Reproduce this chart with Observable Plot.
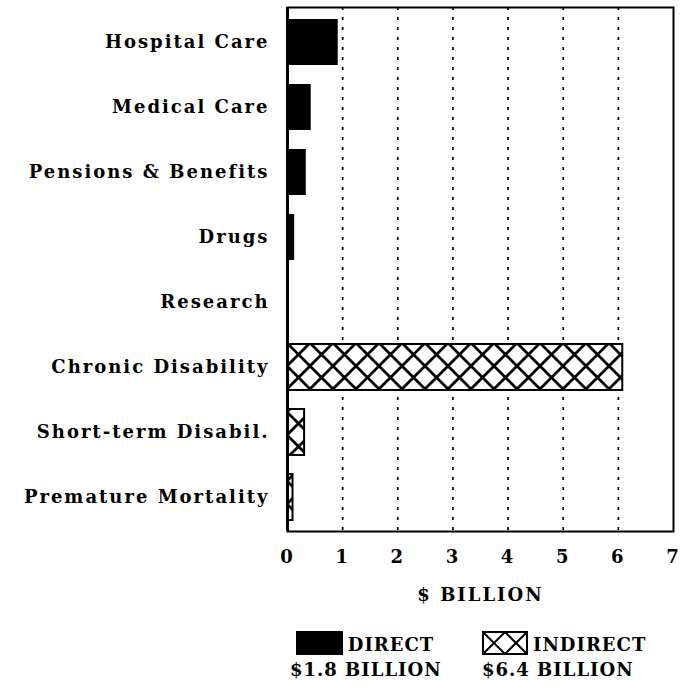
<!DOCTYPE html>
<html>
<head>
<meta charset="utf-8">
<script src="https://cdn.jsdelivr.net/npm/d3@7"></script>
<script src="https://cdn.jsdelivr.net/npm/@observablehq/plot@0.6"></script>
<style>
  html, body { margin: 0; padding: 0; background: #fff; }
  body { width: 692px; height: 690px; overflow: hidden; font-family: "DejaVu Serif", serif; font-weight: bold; color: #000; }
  #chart svg { display: block; }
  #legend { position: relative; width: 692px; height: 78px; }
  .item { position: absolute; top: 19px; text-align: center; font-size: 18px; line-height: 25px; letter-spacing: 1px; white-space: nowrap; }
  .item svg { vertical-align: -4px; margin-right: 5px; }
</style>
</head>
<body>
<div id="chart"></div>
<div id="legend"></div>
<script>
const categories = ["Hospital Care", "Medical Care", "Pensions & Benefits", "Drugs", "Research", "Chronic Disability", "Short-term Disabil.", "Premature Mortality"];
const directCategories = ["Hospital Care", "Medical Care", "Pensions & Benefits", "Drugs", "Research"];
const directValues = [0.92, 0.43, 0.34, 0.13, 0.02];
const indirectCategories = ["Chronic Disability", "Short-term Disabil.", "Premature Mortality"];
const indirectValues = [6.08, 0.31, 0.1];
const xTicks = [0, 1, 2, 3, 4, 5, 6, 7];
const gridValues = [1, 2, 3, 4, 5, 6];
const xTitle = "$ BILLION";
const legendLabels = ["DIRECT", "INDIRECT"];
const legendTotals = ["$1.8 BILLION", "$6.4 BILLION"];

const direct = directCategories.map((c, i) => ({category: c, value: directValues[i]}));
const indirect = indirectCategories.map((c, i) => ({category: c, value: indirectValues[i]}));

const svg = Plot.plot({
  width: 692,
  height: 612,
  marginLeft: 287,
  marginRight: 19,
  marginTop: 7,
  marginBottom: 81,
  style: {fontFamily: "DejaVu Serif, serif", fontSize: "18px", fontWeight: "bold", letterSpacing: "2px", background: "#fff", color: "#000"},
  x: {domain: [0, 7], ticks: xTicks, tickFormat: d => String(d), tickSize: 0, tickPadding: 19, label: null},
  y: {domain: categories, paddingInner: 0.3, paddingOuter: 0.15, tickSize: 0, tickPadding: 18, label: null},
  marks: [
    Plot.ruleX(gridValues, {stroke: "#000", strokeWidth: 1.7, strokeDasharray: "3,7"}),
    Plot.barX(direct, {y: "category", x: "value", fill: "#000"}),
    Plot.barX(indirect, {y: "category", x: "value", fill: "url(#xhatch)", stroke: "#000", strokeWidth: 2}),
    Plot.frame({stroke: "#000", strokeWidth: 2}),
    Plot.ruleX([0], {stroke: "#000", strokeWidth: 3}),
    Plot.text([xTitle], {frameAnchor: "bottom", dy: 69, fill: "#000"})
  ]
});

const defs = d3.select(svg).insert("defs", ":first-child");
const pat = defs.append("pattern")
  .attr("id", "xhatch")
  .attr("patternUnits", "userSpaceOnUse")
  .attr("width", 23).attr("height", 23)
  .attr("x", 287).attr("y", 343);
pat.append("rect").attr("width", 23).attr("height", 23).attr("fill", "#fff");
pat.append("path").attr("d", "M0,0L23,23M23,0L0,23M-2,21L2,25M21,-2L25,2").attr("stroke", "#000").attr("stroke-width", 2.8).attr("fill", "none");

document.getElementById("chart").appendChild(svg);

// Legend
const legend = document.getElementById("legend");
const positions = [{left: 290, width: 150}, {left: 482, width: 150}];
legendLabels.forEach((lab, i) => {
  const div = document.createElement("div");
  div.className = "item";
  div.style.left = positions[i].left + "px";
  div.style.width = positions[i].width + "px";
  const sw = i === 0
    ? `<svg width="47" height="24"><rect x="0" y="0" width="47" height="24" fill="#000"/></svg>`
    : `<svg width="46" height="24"><defs><clipPath id="lc"><rect x="1" y="1" width="44" height="22"/></clipPath></defs><g clip-path="url(#lc)"><path d="M1,1L23,23M23,1L1,23M23,1L45,23M45,1L23,23" stroke="#000" stroke-width="2" fill="none"/></g><rect x="1" y="1" width="44" height="22" fill="none" stroke="#000" stroke-width="2"/></svg>`;
  div.innerHTML = `<div>${sw}${lab}</div><div>${legendTotals[i]}</div>`;
  legend.appendChild(div);
});
</script>
</body>
</html>
